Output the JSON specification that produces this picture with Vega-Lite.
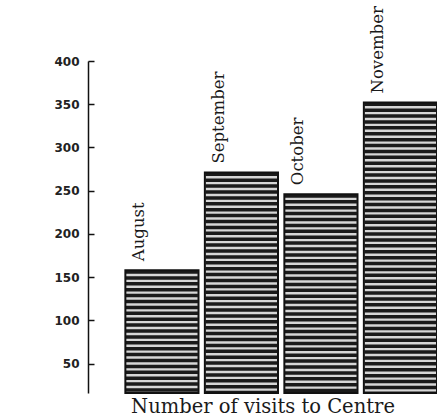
{
  "$schema": "https://vega.github.io/schema/vega-lite/v6.json",
  "width": 349,
  "height": 332,
  "autosize": "none",
  "padding": {"left": 88, "top": 61, "right": 0, "bottom": 25},
  "background": "white",
  "config": {"view": {"stroke": null}},
  "data": {
    "values": [
      {"month": "August", "visits": 158},
      {"month": "September", "visits": 271},
      {"month": "October", "visits": 246},
      {"month": "November", "visits": 352}
    ]
  },
  "encoding": {
    "x": {
      "field": "month",
      "type": "nominal",
      "sort": null,
      "scale": {"paddingInner": 0.08, "paddingOuter": 0.235, "align": 1},
      "axis": {
        "title": "Number of visits to Centre",
        "labels": false,
        "ticks": false,
        "domain": false,
        "titleFont": "DejaVu Serif",
        "titleFontSize": 19.5,
        "titleFontWeight": "normal",
        "titleColor": "#1a1a1a",
        "titlePadding": 4
      }
    },
    "y": {
      "field": "visits",
      "type": "quantitative",
      "scale": {"domain": [16, 400], "zero": false, "nice": false},
      "axis": {
        "title": null,
        "values": [50, 100, 150, 200, 250, 300, 350, 400],
        "grid": false,
        "tickSize": -6,
        "tickWidth": 1.5,
        "tickColor": "#111",
        "domainColor": "#111",
        "domainWidth": 1.5,
        "labelFont": "DejaVu Sans",
        "labelFontWeight": "bold",
        "labelFontSize": 12,
        "labelColor": "#222",
        "labelPadding": 15
      }
    },
    "y2": {"datum": 16}
  },
  "layer": [
    {"mark": {"type": "bar", "fill": "#d6d6d6", "stroke": null}},
    {"mark": {"type": "rule", "strokeWidth": 72, "strokeDash": [3.5, 2.4], "color": "#1a1a1a", "strokeCap": "butt"}},
    {"mark": {"type": "bar", "fillOpacity": 0, "stroke": "#111", "strokeWidth": 2}},
    {
      "mark": {"type": "text", "angle": 270, "align": "left", "baseline": "middle", "dx": 9, "font": "DejaVu Serif", "fontSize": 16.5, "color": "#1a1a1a"},
      "encoding": {
        "x": {"field": "month", "type": "nominal", "sort": null, "bandPosition": 0.19},
        "y2": null,
        "text": {"field": "month"}
      }
    }
  ]
}
